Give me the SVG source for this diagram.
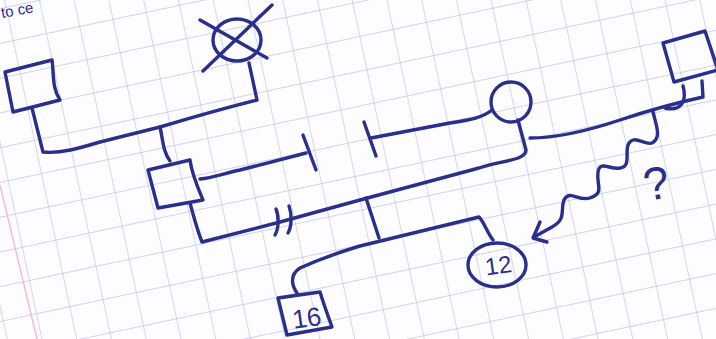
<svg xmlns="http://www.w3.org/2000/svg" width="716" height="339" viewBox="0 0 716 339">
<defs>
<pattern id="grid" patternUnits="userSpaceOnUse" width="34" height="34" patternTransform="rotate(-12) translate(4,8)">
<path d="M0,0 H34 M0,0 V34" fill="none" stroke="#c3c3ec" stroke-width="1.4"/>
</pattern>
<style>
.ink{fill:none;stroke:#2b2f8c;stroke-width:3.4;stroke-linecap:round;stroke-linejoin:round}
.lbl{font-family:"Liberation Sans",Arial,sans-serif;fill:#2b2f8c}
</style>
</defs>
<rect x="0" y="0" width="716" height="339" fill="#fdfdff"/>
<rect x="0" y="0" width="716" height="339" fill="url(#grid)"/>
<path d="M0,185 L37,339" stroke="#f2b8cc" stroke-width="1.4" fill="none"/>
<text class="lbl" x="2" y="18" font-size="15" transform="rotate(-10 2 18)">to ce</text>

<g id="connectors">
<path class="ink" d="M32,108 L43,152 C60,154 80,148 100,142 C120,137 140,132 160,127 C190,118 225,108 257,100 L249,63"/>
<path class="ink" d="M160,127 C163,140 163,152 170,161"/>
<path class="ink" d="M200,179 C212,178 222,174 240,170 L306,153"/>
<path class="ink" d="M303,135 L316,170"/>
<path class="ink" d="M371,138 L450,123 C470,120 482,118 492,110"/>
<path class="ink" d="M364,122 L376,156"/>
<path class="ink" d="M190,203 C194,218 198,232 202,242 L280,222 L360,200 L479,168 C505,160 526,160 526,150 L518,120"/>
<path class="ink" d="M276,209 C279,216 279,228 275,235"/>
<path class="ink" d="M289,206 C292,214 292,226 288,233"/>
<path class="ink" d="M366,198 L379,238"/>
<path class="ink" d="M297,293 C292,286 289,275 300,268 C320,259 340,252 360,246 L479,217 C484,222 487,232 493,240"/>
<path class="ink" d="M530,138 C560,138 590,130 620,120 C650,110 680,102 703,97 L702,81"/>
<path class="ink" d="M683,86 C687,100 682,112 665,108"/>
<path class="ink" d="M653,112 C656,125 662,138 652,143 C645,146 633,133 628,145 C625,155 631,166 620,168 C610,170 600,160 598,172 C596,185 605,193 590,198 C578,202 570,189 564,200 C560,210 567,219 552,227 L534,237"/>
<path class="ink" d="M540,222 L533,238 L547,242"/>
</g>

<g id="grandfather">
<path class="ink" d="M5,72 L52,60 C54,75 52,88 60,100 L13,112 Z"/>
</g>
<g id="grandmother">
<ellipse class="ink" cx="237" cy="40" rx="24" ry="21"/>
<path class="ink" d="M200,20 L267,58 M272,5 L203,71"/>
</g>
<g id="son">
<path class="ink" d="M148,170 L190,160 C192,175 198,188 203,200 L158,208 Z"/>
</g>
<g id="woman">
<ellipse class="ink" cx="511" cy="102" rx="20" ry="20"/>
</g>
<g id="partner">
<path class="ink" d="M663,43 L705,31 L718,70 L674,82 Z"/>
</g>
<g id="child16">
<path class="ink" d="M278,298 L320,292 C324,305 328,316 332,327 L287,335 Z"/>
<text class="lbl" x="292" y="327" font-size="26" transform="rotate(-8 305 316)">16</text>
</g>
<g id="child12">
<ellipse class="ink" cx="497" cy="265" rx="29" ry="22"/>
<text class="lbl" x="485" y="274" font-size="24" transform="rotate(-8 497 265)">12</text>
</g>
<text class="lbl" x="643" y="199" font-size="46" transform="rotate(-10 658 180)">?</text>
</svg>
